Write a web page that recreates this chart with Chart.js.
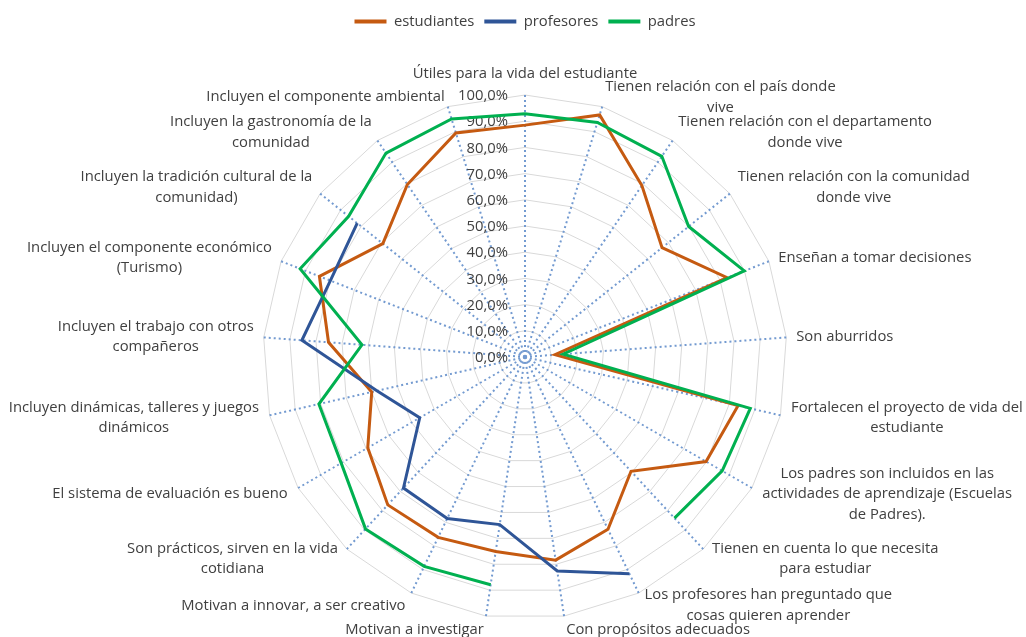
<!DOCTYPE html>
<html>
<head>
<meta charset="utf-8">
<script src="https://cdn.jsdelivr.net/npm/chart.js@4.4.1/dist/chart.umd.min.js"></script>
<style>
  html, body { margin: 0; padding: 0; background: #fff; }
  #wrap { width: 1026px; height: 637px; position: relative; }
</style>
</head>
<body>
<div id="wrap"><canvas id="grafico"></canvas></div>
<script>
// Categorías (cada elemento = líneas de la etiqueta)
const categorias = [
    ['Útiles para la vida del estudiante'],
    ['Tienen relación con el país donde', 'vive'],
    ['Tienen relación con el departamento', 'donde vive'],
    ['Tienen relación con la comunidad', 'donde vive'],
    ['Enseñan a tomar decisiones'],
    ['Son aburridos'],
    ['Fortalecen el proyecto de vida del', 'estudiante'],
    ['Los padres son incluidos en las', 'actividades de aprendizaje (Escuelas', 'de Padres).'],
    ['Tienen en cuenta lo que necesita', 'para estudiar'],
    ['Los profesores han preguntado que', 'cosas quieren aprender'],
    ['Con propósitos adecuados'],
    ['Motivan a investigar'],
    ['Motivan a innovar, a ser creativo'],
    ['Son prácticos, sirven en la vida', 'cotidiana'],
    ['El sistema de evaluación es bueno'],
    ['Incluyen dinámicas, talleres y juegos', 'dinámicos'],
    ['Incluyen el trabajo con otros', 'compañeros'],
    ['Incluyen el componente económico', '(Turismo)'],
    ['Incluyen la tradición cultural de la', 'comunidad)'],
    ['Incluyen la gastronomía de la', 'comunidad'],
    ['Incluyen el componente ambiental']
];

// Valores en porcentaje
const estudiantes = [88.5, 96.7, 79.2, 66.9, 82.9, 11.5, 83.4, 79.8, 59.5, 73.0, 78.4,
                     75.1, 76.4, 77.0, 69.3, 60.0, 75.2, 84.3, 69.4, 79.7, 89.5];
const profesores  = [null, null, null, null, null, null, null, null, null, 91.8, 82.6,
                     64.7, 68.4, 68.2, 46.4, 58.0, 85.4, 79.8, 81.9, null, null];
const padres      = [92.8, 93.7, 92.7, 79.9, 89.9, 14.6, 88.2, 86.9, 83.9, null, null,
                     87.9, 88.7, 89.5, 81.0, 80.7, 62.4, 92.2, 86.1, 94.2, 95.1];

const valoresEje = [0, 10, 20, 30, 40, 50, 60, 70, 80, 90, 100];
const etiquetasEje = ['0,0%', '10,0%', '20,0%', '30,0%', '40,0%', '50,0%',
                      '60,0%', '70,0%', '80,0%', '90,0%', '100,0%'];

const FUENTE = '"Open Sans"';
const TAM = 14.8;
const COLOR_TEXTO = '#404040';
const ALTO_LINEA = 20.5;

// Etiquetas del eje radial (a la izquierda del eje vertical, debajo de las líneas)
const etiquetasRadiales = {
    id: 'etiquetasRadiales',
    beforeDatasetsDraw(chart) {
        const scale = chart.scales.r;
        const ctx = chart.ctx;
        ctx.save();
        ctx.font = `${TAM}px ${FUENTE}`;
        ctx.fillStyle = COLOR_TEXTO;
        ctx.textAlign = 'right';
        ctx.textBaseline = 'middle';
        valoresEje.forEach((v, k) => {
            const d = scale.getDistanceFromCenterForValue(v);
            ctx.fillText(etiquetasEje[k], scale.xCenter - 17, scale.yCenter - d + 1);
        });
        ctx.restore();
    }
};

// Etiquetas de categorías al estilo Excel (bloque alineado, líneas centradas)
const etiquetasCategorias = {
    id: 'etiquetasCategorias',
    afterDraw(chart) {
        const scale = chart.scales.r;
        const ctx = chart.ctx;
        const n = chart.data.labels.length;
        ctx.save();
        ctx.font = `${TAM}px ${FUENTE}`;
        ctx.fillStyle = COLOR_TEXTO;
        ctx.textAlign = 'center';
        ctx.textBaseline = 'middle';
        chart.data.labels.forEach((lineas, i) => {
            const ang = i * 360 / n;
            const rad = ang * Math.PI / 180;
            const alto = lineas.length * ALTO_LINEA;
            const ancho = Math.max(...lineas.map(l => ctx.measureText(l).width));
            const sep = 10 + 4 * Math.max(0, -Math.cos(rad));
            let p, cx, cy;
            if (ang < 1) {
                p = scale.getPointPosition(i, scale.drawingArea + 11);
                cx = p.x;
                cy = p.y - alto / 2;
            } else {
                p = scale.getPointPosition(i, scale.drawingArea + sep);
                cx = ang < 180 ? p.x + ancho / 2 : p.x - ancho / 2;
                cy = p.y;
            }
            lineas.forEach((l, k) => {
                ctx.fillText(l, cx, cy - alto / 2 + ALTO_LINEA * (k + 0.5));
            });
        });
        ctx.restore();
    }
};

const serie = (label, data, color, orden) => ({
    label,
    data,
    borderColor: color,
    backgroundColor: color,
    borderWidth: 3,
    pointRadius: 0,
    pointHoverRadius: 0,
    fill: false,
    spanGaps: false,
    tension: 0,
    order: orden
});

Chart.defaults.font.family = FUENTE;
Chart.defaults.font.size = TAM;
Chart.defaults.color = COLOR_TEXTO;

new Chart(document.getElementById('grafico'), {
    type: 'radar',
    data: {
        labels: categorias,
        datasets: [
            serie('estudiantes', estudiantes, '#C55A11', 2),
            serie('profesores', profesores, '#2F5597', 1),
            serie('padres', padres, '#00B050', 0)
        ]
    },
    options: {
        responsive: true,
        maintainAspectRatio: false,
        animation: false,
        layout: { padding: { top: 4, left: 24, right: 0, bottom: 17 } },
        plugins: {
            legend: {
                position: 'top',
                labels: {
                    usePointStyle: true,
                    pointStyle: 'line',
                    pointStyleWidth: 32,
                    padding: 10,
                    color: COLOR_TEXTO,
                    sort: (a, b) => a.datasetIndex - b.datasetIndex,
                    generateLabels(chart) {
                        const items = Chart.defaults.plugins.legend.labels.generateLabels(chart);
                        items.forEach(it => { it.lineWidth = 4; });
                        return items;
                    }
                }
            },
            // espacio vacío entre la leyenda y el gráfico
            title: {
                display: true,
                text: '',
                weight: 500,
                font: { size: 1 },
                padding: { top: 0, bottom: 55 }
            },
            tooltip: { enabled: false }
        },
        scales: {
            r: {
                min: 0,
                max: 100,
                ticks: { display: false, stepSize: 10 },
                grid: { color: '#D9D9D9', lineWidth: 1 },
                angleLines: { color: '#739AD0', lineWidth: 2, borderDash: [2, 3] },
                pointLabels: { display: false }
            }
        }
    },
    plugins: [etiquetasRadiales, etiquetasCategorias]
});
</script>
</body>
</html>
